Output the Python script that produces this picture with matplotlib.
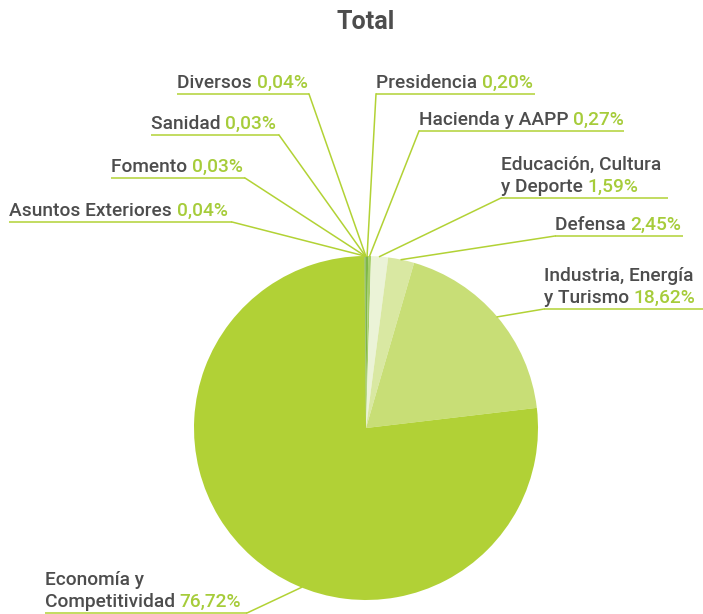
import numpy as np
import matplotlib.pyplot as plt

# data, clockwise from 12 o'clock
labels = ['Presidencia', 'Hacienda y AAPP', 'Educación, Cultura\ny Deporte', 'Defensa',
          'Industria, Energía\ny Turismo', 'Economía y\nCompetitividad',
          'Asuntos Exteriores', 'Fomento', 'Sanidad', 'Diversos']
values = [0.20, 0.27, 1.59, 2.45, 18.62, 76.72, 0.04, 0.03, 0.03, 0.04]
pct_text = ['0,20%', '0,27%', '1,59%', '2,45%', '18,62%', '76,72%',
            '0,04%', '0,03%', '0,03%', '0,04%']

colors = ['#7fb845', '#a5cf68', '#ebf3d7', '#d9e8a2', '#c8de76', '#b1d136',
          '#6fa83a', '#78b040', '#82b844', '#5f9c35']

# label layout in pixels: underline start x, end x, underline y, side
lab_x0 = [376, 419, 501, 555, 544, 45, 9, 111, 151, 177]
lab_x1 = [535, 624, 668, 683, 703, 247, 232, 245, 279, 309]
lab_y = [94, 131, 198, 236, 309, 613, 222, 178, 135, 94]
side = ['r', 'r', 'r', 'r', 'r', 'l', 'l', 'l', 'l', 'l']
anchor_frac = [0.5, 0.5, 0.5, 0.5, 0.5, 0.57, 0.5, 0.5, 0.5, 0.5]

W, H = 703, 614
fig = plt.figure(figsize=(W / 100, H / 100), dpi=100)
ax = fig.add_axes([0, 0, 1, 1])

cx, cy, r = 366, H - 428, 172
wedges, _ = ax.pie(values, colors=colors, startangle=90, counterclock=False,
                   center=(cx, cy), radius=r, frame=True,
                   wedgeprops=dict(linewidth=0))
ax.set_xlim(0, W)
ax.set_ylim(0, H)
ax.set_aspect('equal')
ax.axis('off')

gray = '#4d4d4d'
green = '#a6cc3a'
line_c = '#b2d235'
fs = 13.8

ax.text(366, H - 22, 'Total', ha='center', va='center', fontsize=18,
        fontweight='bold', color=gray, family='Roboto')

for i, w in enumerate(wedges):
    ang = np.deg2rad(w.theta1 + anchor_frac[i] * (w.theta2 - w.theta1))
    px = cx + r * np.cos(ang)
    py = cy + r * np.sin(ang)
    uy = H - lab_y[i]
    near = lab_x0[i] if side[i] == 'r' else lab_x1[i]
    ax.plot([lab_x0[i], lab_x1[i]], [uy, uy], color=line_c, lw=1.1,
            solid_capstyle='butt')
    ax.plot([near, px], [uy, py], color=line_c, lw=1.1)

    lines = labels[i].split('\n')
    ty = uy + 6
    # last line with the percentage
    t = ax.text(lab_x0[i], ty, lines[-1] + ' ', ha='left', va='baseline',
                fontsize=fs, fontweight='medium', color=gray, family='Roboto')
    fig.canvas.draw()
    bb = t.get_window_extent()
    ax.text(bb.x1, ty, pct_text[i], ha='left', va='baseline',
            fontsize=fs, fontweight='medium', color=green, family='Roboto')
    if len(lines) > 1:
        ax.text(lab_x0[i], ty + 22, lines[0], ha='left', va='baseline',
                fontsize=fs, fontweight='medium', color=gray, family='Roboto')

fig.savefig('out.png', dpi=100)
